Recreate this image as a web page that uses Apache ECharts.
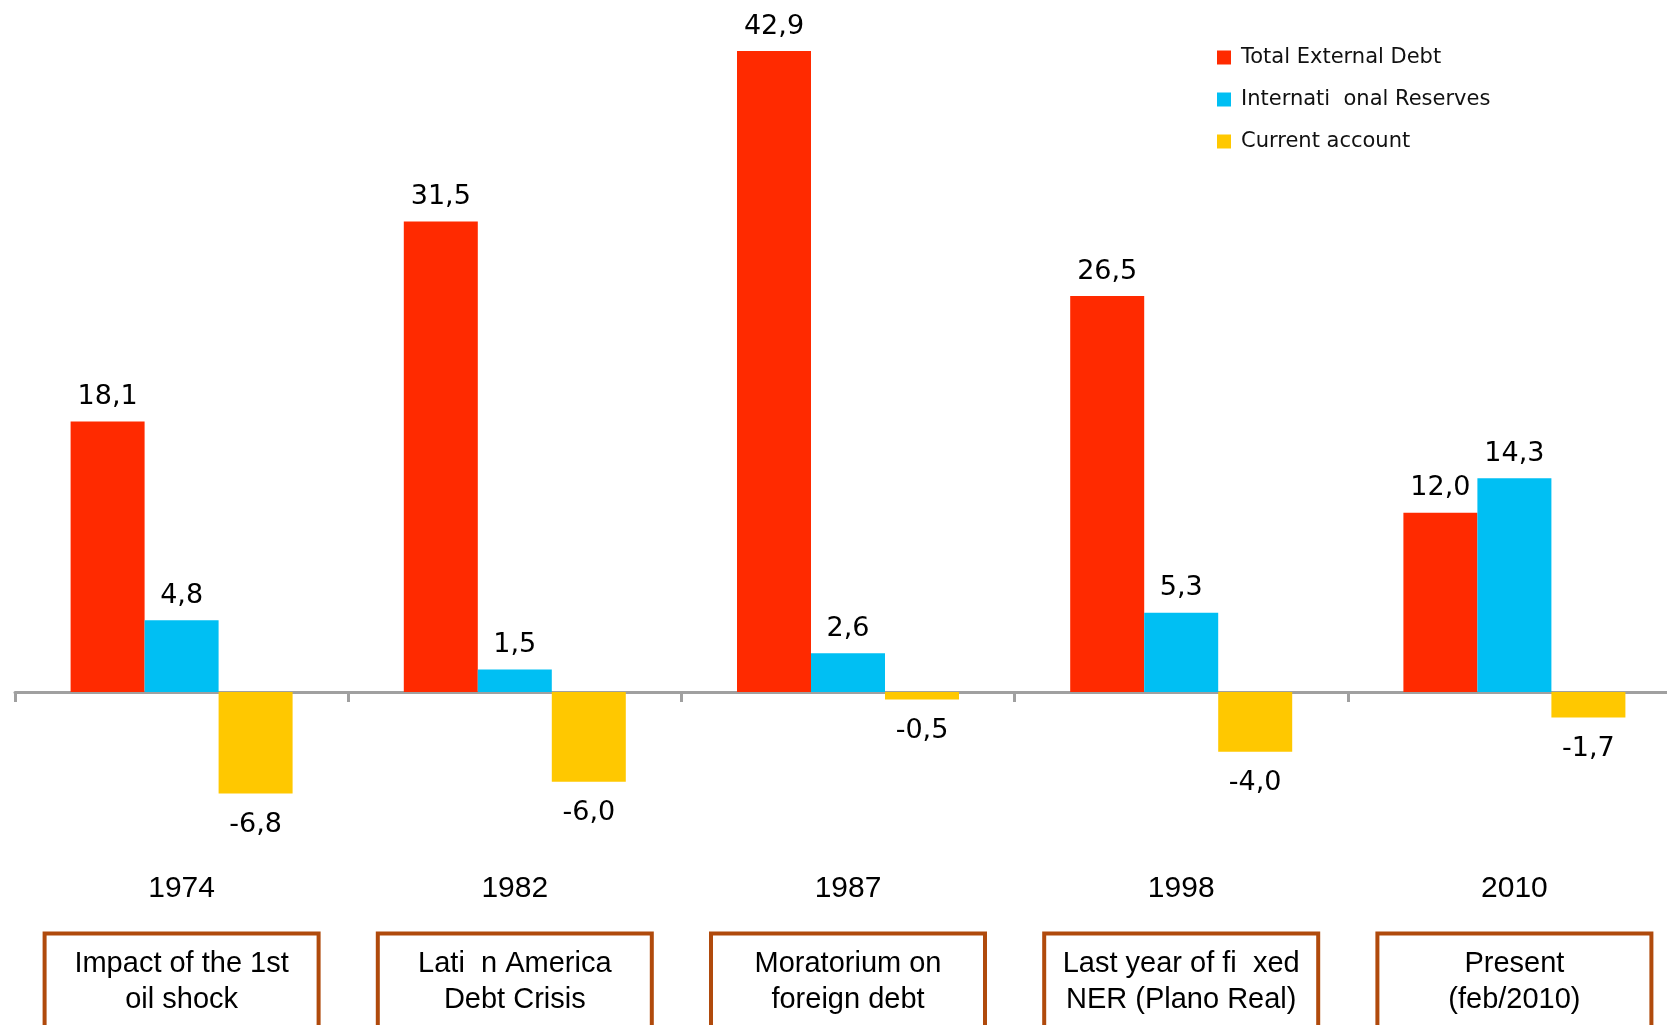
<!DOCTYPE html>
<html>
<head>
<meta charset="utf-8">
<script src="https://cdn.jsdelivr.net/npm/echarts@6/dist/echarts.min.js"></script>
<style>
html,body{margin:0;padding:0;background:#fff;}
#chart{width:1667px;height:1025px;}
</style>
</head>
<body>
<div id="chart"></div>
<script>
const categories = ['1974', '1982', '1987', '1998', '2010'];
const descriptions = ['Impact of the 1st\noil shock', 'Lati  n America\nDebt Crisis', 'Moratorium on\nforeign debt', 'Last year of fi  xed\nNER (Plano Real)', 'Present\n(feb/2010)'];
const seriesNames = ['Total External Debt', 'Internati  onal Reserves', 'Current account'];
const totalExternalDebt = [18.1, 31.5, 42.9, 26.5, 12.0];
const internationalReserves = [4.8, 1.5, 2.6, 5.3, 14.3];
const currentAccount = [-6.8, -6.0, -0.5, -4.0, -1.7];

const fmt = p => p.value.toFixed(1).replace('.', ',');
const labelStyle = {
  show: true, formatter: fmt, color: '#000',
  fontFamily: 'DejaVu Sans', fontSize: 27
};
const k = 14.94;
const chart = echarts.init(document.getElementById('chart'));
chart.setOption({
  animation: false,
  backgroundColor: '#fff',
  grid: { left: 15, top: 692 - 45 * k, width: 1666, height: 55 * k, containLabel: false, outerBoundsMode: 'none' },
  legend: {
    orient: 'vertical', left: 1212, top: 42, itemGap: 21,
    icon: 'rect', itemWidth: 14, itemHeight: 14,
    textStyle: { fontFamily: 'DejaVu Sans', fontSize: 21, color: '#111', padding: [0, 0, 0, 5] },
    data: seriesNames
  },
  xAxis: [
    {
      type: 'category', data: categories, position: 'bottom',
      axisLine: { show: true, onZero: true, lineStyle: { color: '#A0A0A0', width: 3 } },
      axisTick: { show: true, length: 10, lineStyle: { color: '#A0A0A0', width: 3 } },
      axisLabel: { show: false }
    },
    {
      type: 'category', data: categories, position: 'bottom',
      axisLine: { show: false, onZero: false }, axisTick: { show: false },
      axisLabel: { margin: 32, color: '#000', fontFamily: 'Liberation Sans', fontSize: 30 }
    },
    {
      type: 'category', data: descriptions, position: 'bottom',
      axisLine: { show: false, onZero: false }, axisTick: { show: false },
      axisLabel: {
        margin: 94, color: '#000', fontFamily: 'Liberation Sans', fontSize: 29,
        lineHeight: 36, align: 'center',
        width: 262, overflow: 'none',
        padding: [11, 4, 40, 4],
        borderColor: '#B04A0C', borderWidth: 4, backgroundColor: '#fff'
      }
    }
  ],
  yAxis: { type: 'value', min: -10, max: 45, show: false },
  series: [
    {
      name: seriesNames[0], type: 'bar', data: totalExternalDebt, barWidth: 74, barGap: '0%',
      itemStyle: { color: '#FF2A00' },
      label: Object.assign({}, labelStyle, { position: 'top', distance: 11 })
    },
    {
      name: seriesNames[1], type: 'bar', data: internationalReserves, barWidth: 74, barGap: '0%',
      itemStyle: { color: '#00BFF3' },
      label: Object.assign({}, labelStyle, { position: 'top', distance: 11 })
    },
    {
      name: seriesNames[2], type: 'bar', data: currentAccount, barWidth: 74, barGap: '0%',
      itemStyle: { color: '#FFC800' },
      label: Object.assign({}, labelStyle, { position: 'bottom', distance: 18 })
    }
  ]
});
</script>
</body>
</html>
